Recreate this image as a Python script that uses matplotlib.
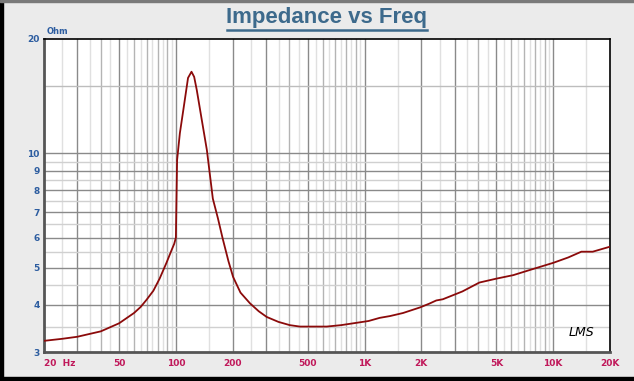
import matplotlib.pyplot as plt
import matplotlib.patches as mpatches
from matplotlib.lines import Line2D
import numpy as np

# impedance curve (Hz, Ohm)
freq = [20, 25, 30, 40, 50, 60, 65, 70, 76, 82, 89, 95, 98, 100, 101.5, 105,
        110, 116, 121, 125, 129, 137, 146, 157, 167, 177, 190, 201, 220, 247,
        275, 303, 350, 402, 454, 630, 750, 905, 1050, 1204, 1364, 1600, 1966,
        2200, 2400, 2600, 3300, 4060, 5000, 6140, 7500, 10000, 12000, 14100,
        16200, 20000]
ohm = [3.21, 3.25, 3.29, 3.40, 3.57, 3.80, 3.94, 4.12, 4.35, 4.68, 5.14, 5.57,
       5.78, 6.0, 9.6, 11.3, 13.2, 15.8, 16.4, 15.9, 14.7, 12.3, 10.2, 7.6,
       6.75, 5.97, 5.2, 4.73, 4.3, 4.03, 3.84, 3.71, 3.6, 3.53, 3.50, 3.50,
       3.53, 3.58, 3.62, 3.69, 3.73, 3.80, 3.93, 4.02, 4.10, 4.13, 4.33, 4.57,
       4.68, 4.78, 4.93, 5.15, 5.32, 5.51, 5.51, 5.68]

x_ticks = [20, 50, 100, 200, 500, 1000, 2000, 5000, 10000, 20000]
x_labels = ["20  Hz", "50", "100", "200", "500", "1K", "2K", "5K", "10K", "20K"]
y_ticks = [3, 4, 5, 6, 7, 8, 9, 10, 20]
y_labels = ["3", "4", "5", "6", "7", "8", "9", "10", "20"]

BG = "#ebebeb"
BLUE = "#2d5da0"
RED = "#c0185a"
CURVE = "#8b0a0a"

fig = plt.figure(figsize=(6.34, 3.81), dpi=100, facecolor=BG)
ax = fig.add_axes([44 / 634, 29 / 381, 566 / 634, 313 / 381])
ax.set_xscale("log")
ax.set_yscale("log")
ax.set_xlim(20, 20000)
ax.set_ylim(3, 20)

# grid: half steps per decade, 1-2-3-5 darkest, other whole steps medium
for dec in [10, 100, 1000, 10000]:
    for m in np.arange(1, 10, 0.5):
        f = m * dec
        if 20 < f < 20000:
            if m in (1, 2, 3, 5):
                c = "#8a8a8a"
            elif float(m).is_integer():
                c = "#b4b4b4"
            else:
                c = "#e0e0e0"
            ax.axvline(f, color=c, lw=1, zorder=1)
for v in np.arange(3.5, 10.01, 0.5):
    c = "#8a8a8a" if float(v).is_integer() else "#d0d0d0"
    ax.axhline(v, color=c, lw=1, zorder=1)
ax.axhline(15, color="#bdbdbd", lw=1, zorder=1)

ax.plot(freq, ohm, color=CURVE, lw=1.3, zorder=3)

ax.set_xticks(x_ticks, x_labels)
ax.set_yticks(y_ticks, y_labels)
ax.minorticks_off()
ax.tick_params(axis="both", length=0, labelsize=6.5)
ax.tick_params(axis="x", pad=5, labelcolor=RED)
ax.tick_params(axis="y", pad=3, labelcolor=BLUE)
for lab in ax.get_xticklabels() + ax.get_yticklabels():
    lab.set_fontweight("bold")
ax.get_xticklabels()[0].set_horizontalalignment("left")

for side in ["left", "bottom"]:
    ax.spines[side].set_color("#555555")
    ax.spines[side].set_linewidth(2)
for side in ["top", "right"]:
    ax.spines[side].set_color("black")
    ax.spines[side].set_linewidth(1.2)

fig.text(47 / 634, 1 - 32 / 381, "Ohm", color=BLUE, fontsize=6,
         fontweight="bold", va="center")

fig.text(327 / 634, 1 - 18 / 381, "Impedance vs Freq", color="#3d6a8c",
         fontsize=16, fontweight="bold", family="Liberation Sans",
         ha="center", va="center")
fig.add_artist(Line2D([227 / 634, 427 / 634], [1 - 30 / 381, 1 - 30 / 381],
                      color="#3d6a8c", lw=1.8))

ax.text(0.972, 0.04, "LMS", transform=ax.transAxes, ha="right", va="bottom",
        fontsize=9, style="italic", family="DejaVu Sans", color="black",
        fontweight="light", zorder=4)

# window frame
fig.add_artist(mpatches.Rectangle((0, 0), 3 / 634, 1, color="black",
                                  transform=fig.transFigure))
fig.add_artist(mpatches.Rectangle((0, 0), 1, 4 / 381, color="black",
                                  transform=fig.transFigure))
fig.add_artist(mpatches.Rectangle((0, 1 - 1.5 / 381), 1, 1.5 / 381,
                                  color="#7a7a7a", transform=fig.transFigure))

plt.savefig("out.png", dpi=100, facecolor=BG)
